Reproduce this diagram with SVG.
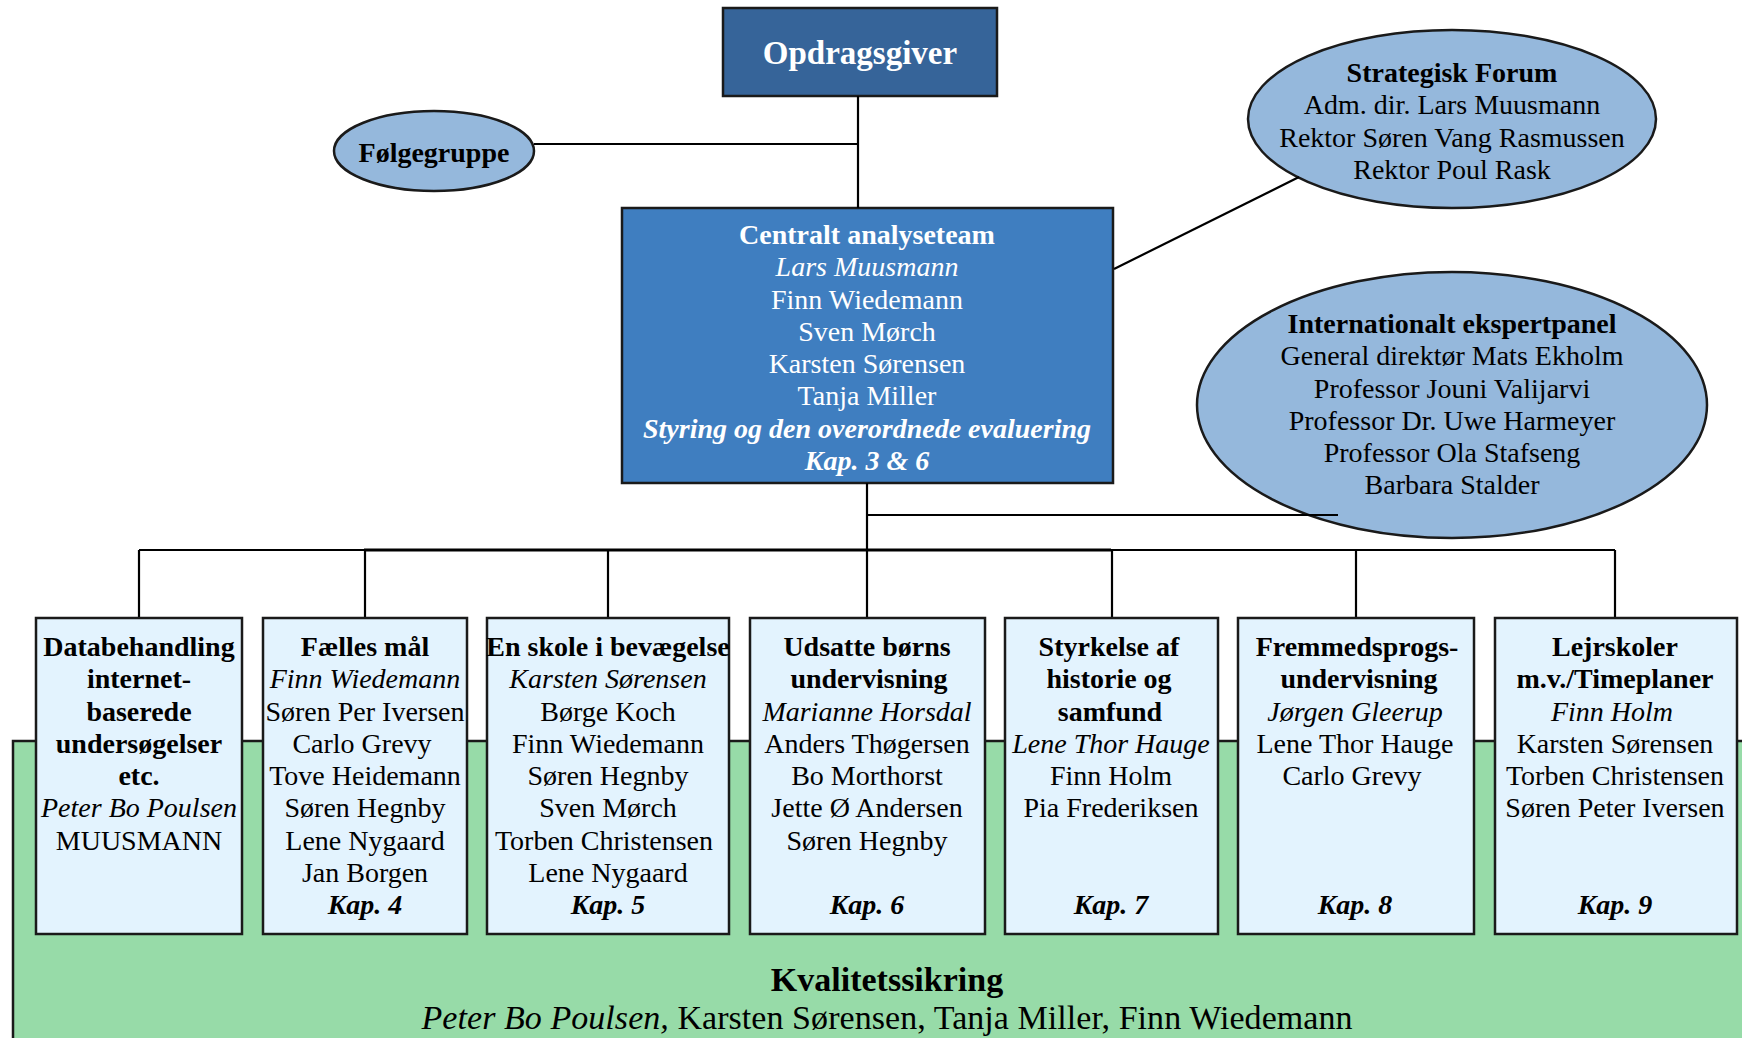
<svg xmlns="http://www.w3.org/2000/svg" width="1742" height="1038" viewBox="0 0 1742 1038">
<style>
text{font-family:"Liberation Serif","Times New Roman",serif;font-size:28px;text-anchor:middle;fill:#000}
.b{font-weight:bold}
.i{font-style:italic}
.w{fill:#fff}
.big{font-size:33px}
.big2{font-size:34px}
.box{fill:#e3f3fe;stroke:#1a1a1a;stroke-width:2.5}
.ell{fill:#95b8dc;stroke:#1a1a1a;stroke-width:2.5}
.con line{stroke:#000;stroke-width:2.2}
</style>
<rect id="kvalitet-bg" x="13" y="741" width="1760" height="320" fill="#97dba8" stroke="#1a1a1a" stroke-width="2.5"/>
<g id="opdragsgiver">
<rect x="723" y="8" width="274" height="88" fill="#366499" stroke="#1a1a1a" stroke-width="2.5"/>
<text class="b w big" x="860" y="64">Opdragsgiver</text>
</g>
<g id="folgegruppe">
<ellipse class="ell" cx="434" cy="151" rx="100" ry="40"/>
<text class="b" x="434" y="162">Følgegruppe</text>
</g>
<g id="strategisk">
<ellipse class="ell" cx="1452" cy="119" rx="204" ry="89"/>
<text x="1452" y="82" class="b">Strategisk Forum</text>
<text x="1452" y="114">Adm. dir. Lars Muusmann</text>
<text x="1452" y="147">Rektor Søren Vang Rasmussen</text>
<text x="1452" y="179">Rektor Poul Rask</text>
</g>
<g id="central">
<rect x="622" y="208" width="491" height="275" fill="#3f7ec0" stroke="#1a1a1a" stroke-width="2.5"/>
<text class="b w" x="867" y="244">Centralt analyseteam</text>
<text class="i w" x="867" y="276">Lars Muusmann</text>
<text class="w" x="867" y="309">Finn Wiedemann</text>
<text class="w" x="867" y="341">Sven Mørch</text>
<text class="w" x="867" y="373">Karsten Sørensen</text>
<text class="w" x="867" y="405">Tanja Miller</text>
<text class="b i w" x="867" y="438">Styring og den overordnede evaluering</text>
<text class="b i w" x="867" y="470">Kap. 3 &amp; 6</text>
</g>
<g id="ekspertpanel">
<ellipse class="ell" cx="1452" cy="405" rx="255" ry="133"/>
<text class="b" x="1452" y="333">Internationalt ekspertpanel</text>
<text x="1452" y="365">General direktør Mats Ekholm</text>
<text x="1452" y="398">Professor Jouni Valijarvi</text>
<text x="1452" y="430">Professor Dr. Uwe Harmeyer</text>
<text x="1452" y="462">Professor Ola Stafseng</text>
<text x="1452" y="494">Barbara Stalder</text>
</g>
<g id="connectors" class="con">
<line x1="858" y1="96" x2="858" y2="208"/>
<line x1="534" y1="144" x2="858" y2="144"/>
<line x1="1114" y1="269" x2="1299" y2="177"/>
<line x1="867" y1="483" x2="867" y2="550"/>
<line x1="867" y1="515" x2="1338" y2="515"/>
<line x1="139" y1="550" x2="1615" y2="550"/>
<line x1="364" y1="550" x2="1111" y2="550" style="stroke-width:3.2"/>
<line x1="139" y1="550" x2="139" y2="618"/>
<line x1="365" y1="550" x2="365" y2="618"/>
<line x1="608" y1="550" x2="608" y2="618"/>
<line x1="867" y1="550" x2="867" y2="618"/>
<line x1="1112" y1="550" x2="1112" y2="618"/>
<line x1="1356" y1="550" x2="1356" y2="618"/>
<line x1="1615" y1="550" x2="1615" y2="618"/>
</g>
<g id="box-databehandling">
<rect class="box" x="36" y="618" width="206" height="316"/>
<text class="b" x="139" y="656">Databehandling</text>
<text class="b" x="139" y="688">internet-</text>
<text class="b" x="139" y="721">baserede</text>
<text class="b" x="139" y="753">undersøgelser</text>
<text class="b" x="139" y="785">etc.</text>
<text class="i" x="139" y="817">Peter Bo Poulsen</text>
<text x="139" y="850">MUUSMANN</text>
</g>
<g id="box-faelles">
<rect class="box" x="263" y="618" width="204" height="316"/>
<text class="b" x="365" y="656">Fælles mål</text>
<text class="i" x="365" y="688">Finn Wiedemann</text>
<text x="365" y="721">Søren Per Iversen</text>
<text x="362" y="753">Carlo Grevy</text>
<text x="365" y="785">Tove Heidemann</text>
<text x="365" y="817">Søren Hegnby</text>
<text x="365" y="850">Lene Nygaard</text>
<text x="365" y="882">Jan Borgen</text>
<text class="b i" x="365" y="914">Kap. 4</text>
</g>
<g id="box-skole">
<rect class="box" x="487" y="618" width="242" height="316"/>
<text class="b" x="608" y="656">En skole i bevægelse</text>
<text class="i" x="608" y="688">Karsten Sørensen</text>
<text x="608" y="721">Børge Koch</text>
<text x="608" y="753">Finn Wiedemann</text>
<text x="608" y="785">Søren Hegnby</text>
<text x="608" y="817">Sven Mørch</text>
<text x="604" y="850">Torben Christensen</text>
<text x="608" y="882">Lene Nygaard</text>
<text class="b i" x="608" y="914">Kap. 5</text>
</g>
<g id="box-udsatte">
<rect class="box" x="750" y="618" width="235" height="316"/>
<text class="b" x="867" y="656">Udsatte børns</text>
<text class="b" x="869" y="688">undervisning</text>
<text class="i" x="867" y="721">Marianne Horsdal</text>
<text x="867" y="753">Anders Thøgersen</text>
<text x="867" y="785">Bo Morthorst</text>
<text x="867" y="817">Jette Ø Andersen</text>
<text x="867" y="850">Søren Hegnby</text>
<text class="b i" x="867" y="914">Kap. 6</text>
</g>
<g id="box-historie">
<rect class="box" x="1005" y="618" width="213" height="316"/>
<text class="b" x="1109" y="656">Styrkelse af</text>
<text class="b" x="1109" y="688">historie og</text>
<text class="b" x="1110" y="721">samfund</text>
<text class="i" x="1111" y="753">Lene Thor Hauge</text>
<text x="1111" y="785">Finn Holm</text>
<text x="1111" y="817">Pia Frederiksen</text>
<text class="b i" x="1111" y="914">Kap. 7</text>
</g>
<g id="box-fremmedsprog">
<rect class="box" x="1238" y="618" width="236" height="316"/>
<text class="b" x="1357" y="656">Fremmedsprogs-</text>
<text class="b" x="1359" y="688">undervisning</text>
<text class="i" x="1355" y="721">Jørgen Gleerup</text>
<text x="1355" y="753">Lene Thor Hauge</text>
<text x="1352" y="785">Carlo Grevy</text>
<text class="b i" x="1355" y="914">Kap. 8</text>
</g>
<g id="box-lejrskoler">
<rect class="box" x="1495" y="618" width="242" height="316"/>
<text class="b" x="1615" y="656">Lejrskoler</text>
<text class="b" x="1615" y="688">m.v./Timeplaner</text>
<text class="i" x="1612" y="721">Finn Holm</text>
<text x="1615" y="753">Karsten Sørensen</text>
<text x="1615" y="785">Torben Christensen</text>
<text x="1615" y="817">Søren Peter Iversen</text>
<text class="b i" x="1615" y="914">Kap. 9</text>
</g>
<g id="kvalitetssikring">
<text class="b big2" x="887" y="991">Kvalitetssikring</text>
<text class="big2" x="887" y="1029" textLength="931" lengthAdjust="spacing"><tspan class="i">Peter Bo Poulsen,</tspan> Karsten Sørensen, Tanja Miller, Finn Wiedemann</text>
</g>
</svg>
